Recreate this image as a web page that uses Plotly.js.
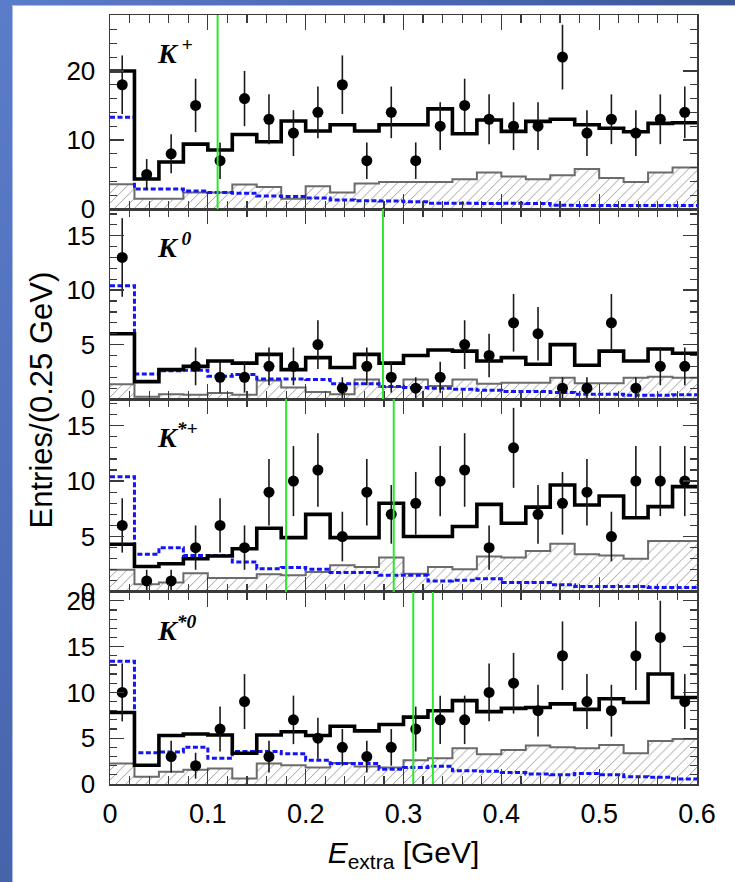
<!DOCTYPE html>
<html>
<head>
<meta charset="utf-8">
<script src="https://cdn.plot.ly/plotly-3.0.1.min.js"></script>
<style>
  html, body { margin: 0; padding: 0; width: 735px; height: 882px; overflow: hidden; }
  body { position: relative; background: linear-gradient(90deg, #5b7cc9 0%, #4a69b3 55%, #3b5896 100%); }
  #edge { position: absolute; left: 0; top: 0; width: 12px; bottom: 0;
          background: linear-gradient(180deg, #5b7cc9 0%, #4f6fba 60%, #4664aa 100%); }
  #sheet { position: absolute; left: 12px; top: 5px; right: 0; bottom: 0; background: #fff;
           border-left: 1px solid #a9bbe6; border-top: 1px solid #a9bbe6; }
  #chart { position: absolute; left: 0; top: 0; width: 735px; height: 882px; }
</style>
</head>
<body>
<div id="edge"></div>
<div id="sheet"></div>
<div id="chart"></div>
<script>
// E_extra bin centres (GeV), 0.025 GeV wide bins
const binCenters = [0.0125, 0.0375, 0.0625, 0.0875, 0.1125, 0.1375, 0.1625, 0.1875,
                    0.2125, 0.2375, 0.2625, 0.2875, 0.3125, 0.3375, 0.3625, 0.3875,
                    0.4125, 0.4375, 0.4625, 0.4875, 0.5125, 0.5375, 0.5625, 0.5875];

// K+ channel
const kpData = [18, 5, 8, 15, 7, 16, 13, 11, 14, 18, 7, 14, 7, 12, 15, 13, 12, 12, 22, 11, 13, 11, 13, 14];
const kpFit  = [20.0, 4.35, 6.8, 9.4, 8.55, 10.8, 9.75, 12.75, 11.3, 12.2, 11.3, 12.2,
                12.2, 14.5, 10.9, 12.9, 11.25, 12.7, 13.0, 12.2, 11.7, 11.2, 12.4, 12.5];
const kpBkg  = [3.6, 1.5, 1.5, 2.4, 2.4, 3.55, 3.2, 1.5, 3.3, 2.4, 3.7, 3.9,
                3.9, 3.9, 4.3, 5.3, 4.7, 4.3, 4.9, 5.8, 4.5, 3.9, 5.3, 6.0];
const kpSig  = [13.3, 2.9, 2.9, 2.6, 2.4, 2.3, 1.9, 1.8, 1.6, 1.3, 1.2, 1.15,
                1.05, 0.85, 0.85, 0.8, 0.85, 0.8, 0.55, 0.5, 0.5, 0.5, 0.5, 0.5];
const kpCuts = [0.11];

// K0 channel (empty bins carry no point)
const k0Data = [13, null, null, 3, 2, 2, 3, 3, 5, 1, 3, 2, 1, 2, 5, 4, 7, 6, 1, 1, 7, 1, 3, 3];
const k0Fit  = [6.0, 1.6, 2.7, 3.0, 3.5, 3.3, 4.1, 2.7, 3.8, 2.9, 4.1, 3.3,
                4.0, 4.5, 4.4, 3.5, 3.8, 3.2, 5.0, 3.1, 4.4, 3.5, 4.6, 4.2];
const k0Bkg  = [1.35, 0.2, 0.45, 0.4, 0.55, 0.4, 1.7, 1.05, 0.65, 0.45, 1.8, 1.1,
                1.8, 1.2, 1.8, 1.4, 1.5, 1.5, 1.95, 1.45, 1.45, 1.95, 2.05, 1.95];
const k0Sig  = [10.4, 2.3, 2.6, 2.65, 2.1, 2.25, 1.85, 1.85, 1.8, 1.4, 1.4, 1.15,
                1.05, 1.0, 0.9, 0.8, 0.7, 0.7, 0.6, 0.45, 0.45, 0.35, 0.35, 0.4];
const k0Cuts = [0.279];

// K*+ channel
const kspData = [6, 1, 1, 4, 6, 4, 9, 10, 11, 5, 9, 7, 8, 10, 11, 4, 13, 7, 8, 9, 5, 10, 10, 10];
const kspFit  = [4.3, 2.3, 2.55, 3.0, 3.25, 3.9, 5.75, 4.9, 7.0, 4.9, 4.9, 8.0,
                 5.0, 5.0, 5.9, 7.9, 6.2, 7.65, 9.65, 7.85, 8.65, 6.7, 7.7, 9.5];
const kspBkg  = [2.0, 0.7, 0.85, 1.7, 1.27, 1.27, 1.6, 1.5, 1.8, 2.4, 2.25, 3.1,
                 1.65, 2.25, 2.05, 3.2, 3.1, 3.7, 4.35, 3.4, 3.3, 3.0, 4.6, 4.6];
const kspSig  = [10.4, 3.4, 4.0, 3.3, 3.3, 2.7, 2.1, 2.2, 2.05, 1.75, 1.75, 1.5,
                 1.5, 1.0, 1.05, 1.2, 0.85, 0.85, 0.65, 0.5, 0.5, 0.5, 0.4, 0.4];
const kspCuts = [0.18, 0.29];

// K*0 channel
const ks0Data = [10, null, 3, 2, 6, 9, 3, 7, 5, 4, 3, 4, 6, 7, 7, 10, 11, 8, 14, 9, 8, 14, 16, 9];
const ks0Fit  = [7.8, 2.05, 5.3, 5.45, 5.35, 3.35, 5.35, 5.7, 5.3, 6.3, 5.8, 6.5,
                 7.3, 8.0, 9.1, 7.9, 8.25, 8.35, 8.75, 8.15, 9.3, 8.9, 12.0, 9.45];
const ks0Bkg  = [2.25, 0.8, 1.35, 1.55, 1.7, 0.6, 2.25, 2.05, 1.8, 2.3, 1.9, 1.8,
                 2.6, 2.8, 3.9, 3.25, 3.7, 4.2, 4.0, 3.9, 4.25, 3.35, 4.7, 4.9];
const ks0Sig  = [13.4, 3.4, 3.5, 4.0, 2.8, 3.55, 3.55, 3.3, 2.6, 2.25, 2.25, 1.6,
                 1.8, 1.95, 1.45, 1.4, 1.25, 1.1, 1.0, 1.15, 1.0, 0.8, 0.75, 0.55];
const ks0Cuts = [0.31, 0.33];

const channelLabels = ['<b><i>K</i></b><sup><b><i> +</i></b></sup>',
                       '<b><i>K</i></b><sup><b><i> 0</i></b></sup>',
                       '<b><i>K</i></b><sup><b><i>*+</i></b></sup>',
                       '<b><i>K</i></b><sup><b><i>*0</i></b></sup>'];
const xTickLabels = ['0', '0.1', '0.2', '0.3', '0.4', '0.5', '0.6'];

// panel layout, top to bottom
const panels = [
  { data: kpData,  fit: kpFit,  bkg: kpBkg,  sig: kpSig,  cuts: kpCuts,  yMax: 28.1,  dtick: 10, minor: 2, domain: [0.7477, 1.0] },
  { data: k0Data,  fit: k0Fit,  bkg: k0Bkg,  sig: k0Sig,  cuts: k0Cuts,  yMax: 17.45, dtick: 5,  minor: 1, domain: [0.5006, 0.7477] },
  { data: kspData, fit: kspFit, bkg: kspBkg, sig: kspSig, cuts: kspCuts, yMax: 17.4,  dtick: 5,  minor: 1, domain: [0.2497, 0.5006] },
  { data: ks0Data, fit: ks0Fit, bkg: ks0Bkg, sig: ks0Sig, cuts: ks0Cuts, yMax: 20.96, dtick: 5,  minor: 1, domain: [0.0, 0.2497] }
];

const halfW = (binCenters[1] - binCenters[0]) / 2;
const edges = binCenters.map(c => c - halfW).concat([binCenters[binCenters.length - 1] + halfW]);
const steps = v => v.concat([v[v.length - 1]]);

const xTickFont = { family: 'Arial, "Liberation Sans", sans-serif', size: 27, color: '#000' };
const yTickFont = { family: 'Arial, "Liberation Sans", sans-serif', size: 26, color: '#000' };
const axisCol = '#3a3a3a';

const traces = [];
const shapes = [];
const annotations = [];
const layout = {
  width: 735, height: 882,
  margin: { l: 110, r: 38, t: 15, b: 98, pad: 0 },
  paper_bgcolor: 'rgba(0,0,0,0)',
  plot_bgcolor: '#ffffff',
  showlegend: false,
  font: { family: 'Arial, "Liberation Sans", sans-serif', color: '#000' }
};

panels.forEach((p, i) => {
  const n = i + 1;
  const xa = n === 1 ? 'x' : 'x' + n;
  const ya = n === 1 ? 'y' : 'y' + n;

  // peaking / combinatorial background: hatched step histogram
  traces.push({
    type: 'scatter', mode: 'lines', x: edges, y: steps(p.bkg), xaxis: xa, yaxis: ya,
    line: { shape: 'hv', color: '#6b6b6b', width: 2 },
    fill: 'tozeroy', fillcolor: 'rgba(0,0,0,0)',
    fillpattern: { shape: '/', fgcolor: '#9c9c9c', bgcolor: 'rgba(0,0,0,0)', size: 7, solidity: 0.14, fillmode: 'replace' },
    hoverinfo: 'skip'
  });
  // signal shape: dashed blue step histogram
  traces.push({
    type: 'scatter', mode: 'lines', x: edges, y: steps(p.sig), xaxis: xa, yaxis: ya,
    line: { shape: 'hv', color: '#1414f5', width: 3, dash: '5px,2.5px' },
    hoverinfo: 'skip'
  });
  // total fit: thick black step histogram
  traces.push({
    type: 'scatter', mode: 'lines', x: edges, y: steps(p.fit), xaxis: xa, yaxis: ya,
    line: { shape: 'hv', color: '#000', width: 3.6 },
    hoverinfo: 'skip'
  });
  // data with Poisson (sqrt N) errors
  traces.push({
    type: 'scatter', mode: 'markers', x: binCenters, y: p.data, xaxis: xa, yaxis: ya,
    marker: { color: '#000', size: 11 },
    error_y: { type: 'sqrt', visible: true, color: '#1a1a1a', thickness: 1.6, width: 0 }
  });

  // selection cuts
  p.cuts.forEach(c => {
    shapes.push({
      type: 'line', xref: xa, yref: ya + ' domain', x0: c, x1: c, y0: 0, y1: 1,
      line: { color: '#2ee62e', width: 2 }, layer: 'above'
    });
  });

  annotations.push({
    xref: 'paper', yref: ya + ' domain', x: 0.076, y: 0.91, xanchor: 'left', yanchor: 'top',
    text: channelLabels[i], showarrow: false,
    font: { family: '"Liberation Serif", "Times New Roman", serif', size: 28, color: '#000' }
  });

  layout[n === 1 ? 'xaxis' : 'xaxis' + n] = {
    domain: [0, 1], range: [0, 0.6], anchor: ya, matches: n === 1 ? undefined : 'x',
    showline: true, mirror: 'allticks', linecolor: axisCol, linewidth: 1.5,
    ticks: 'inside', ticklen: 15, tickwidth: 1.3, tickcolor: axisCol,
    tickmode: 'array', tickvals: xTickLabels.map(Number), ticktext: xTickLabels,
    minor: { dtick: 0.02, tick0: 0, ticks: 'inside', ticklen: 8, tickwidth: 1.2, tickcolor: axisCol },
    showgrid: false, zeroline: false,
    showticklabels: n === 4, tickfont: xTickFont, ticklabelstandoff: 5,
    title: n === 4 ? { text: '<i>E</i><sub>extra</sub> [GeV]', font: { size: 30, color: '#000' }, standoff: 14 } : undefined
  };
  layout[n === 1 ? 'yaxis' : 'yaxis' + n] = {
    domain: p.domain, range: [0, p.yMax], anchor: xa,
    showline: true, mirror: 'allticks', linecolor: axisCol, linewidth: 1.5,
    ticks: 'inside', ticklen: 14, tickwidth: 1.3, tickcolor: axisCol,
    dtick: p.dtick, tick0: 0,
    minor: { dtick: p.minor, tick0: 0, ticks: 'inside', ticklen: 7, tickwidth: 1.2, tickcolor: axisCol },
    showgrid: false, zeroline: false,
    tickfont: yTickFont, ticklabelstandoff: 8
  };
});

annotations.push({
  xref: 'paper', yref: 'paper', x: -0.116, y: 0.5, xanchor: 'center', yanchor: 'middle',
  textangle: -90, text: 'Entries/(0.25 GeV)', showarrow: false,
  font: { family: 'Arial, "Liberation Sans", sans-serif', size: 31, color: '#000' }
});

layout.shapes = shapes;
layout.annotations = annotations;

Plotly.newPlot('chart', traces, layout, { staticPlot: true, displayModeBar: false });
</script>
</body>
</html>
